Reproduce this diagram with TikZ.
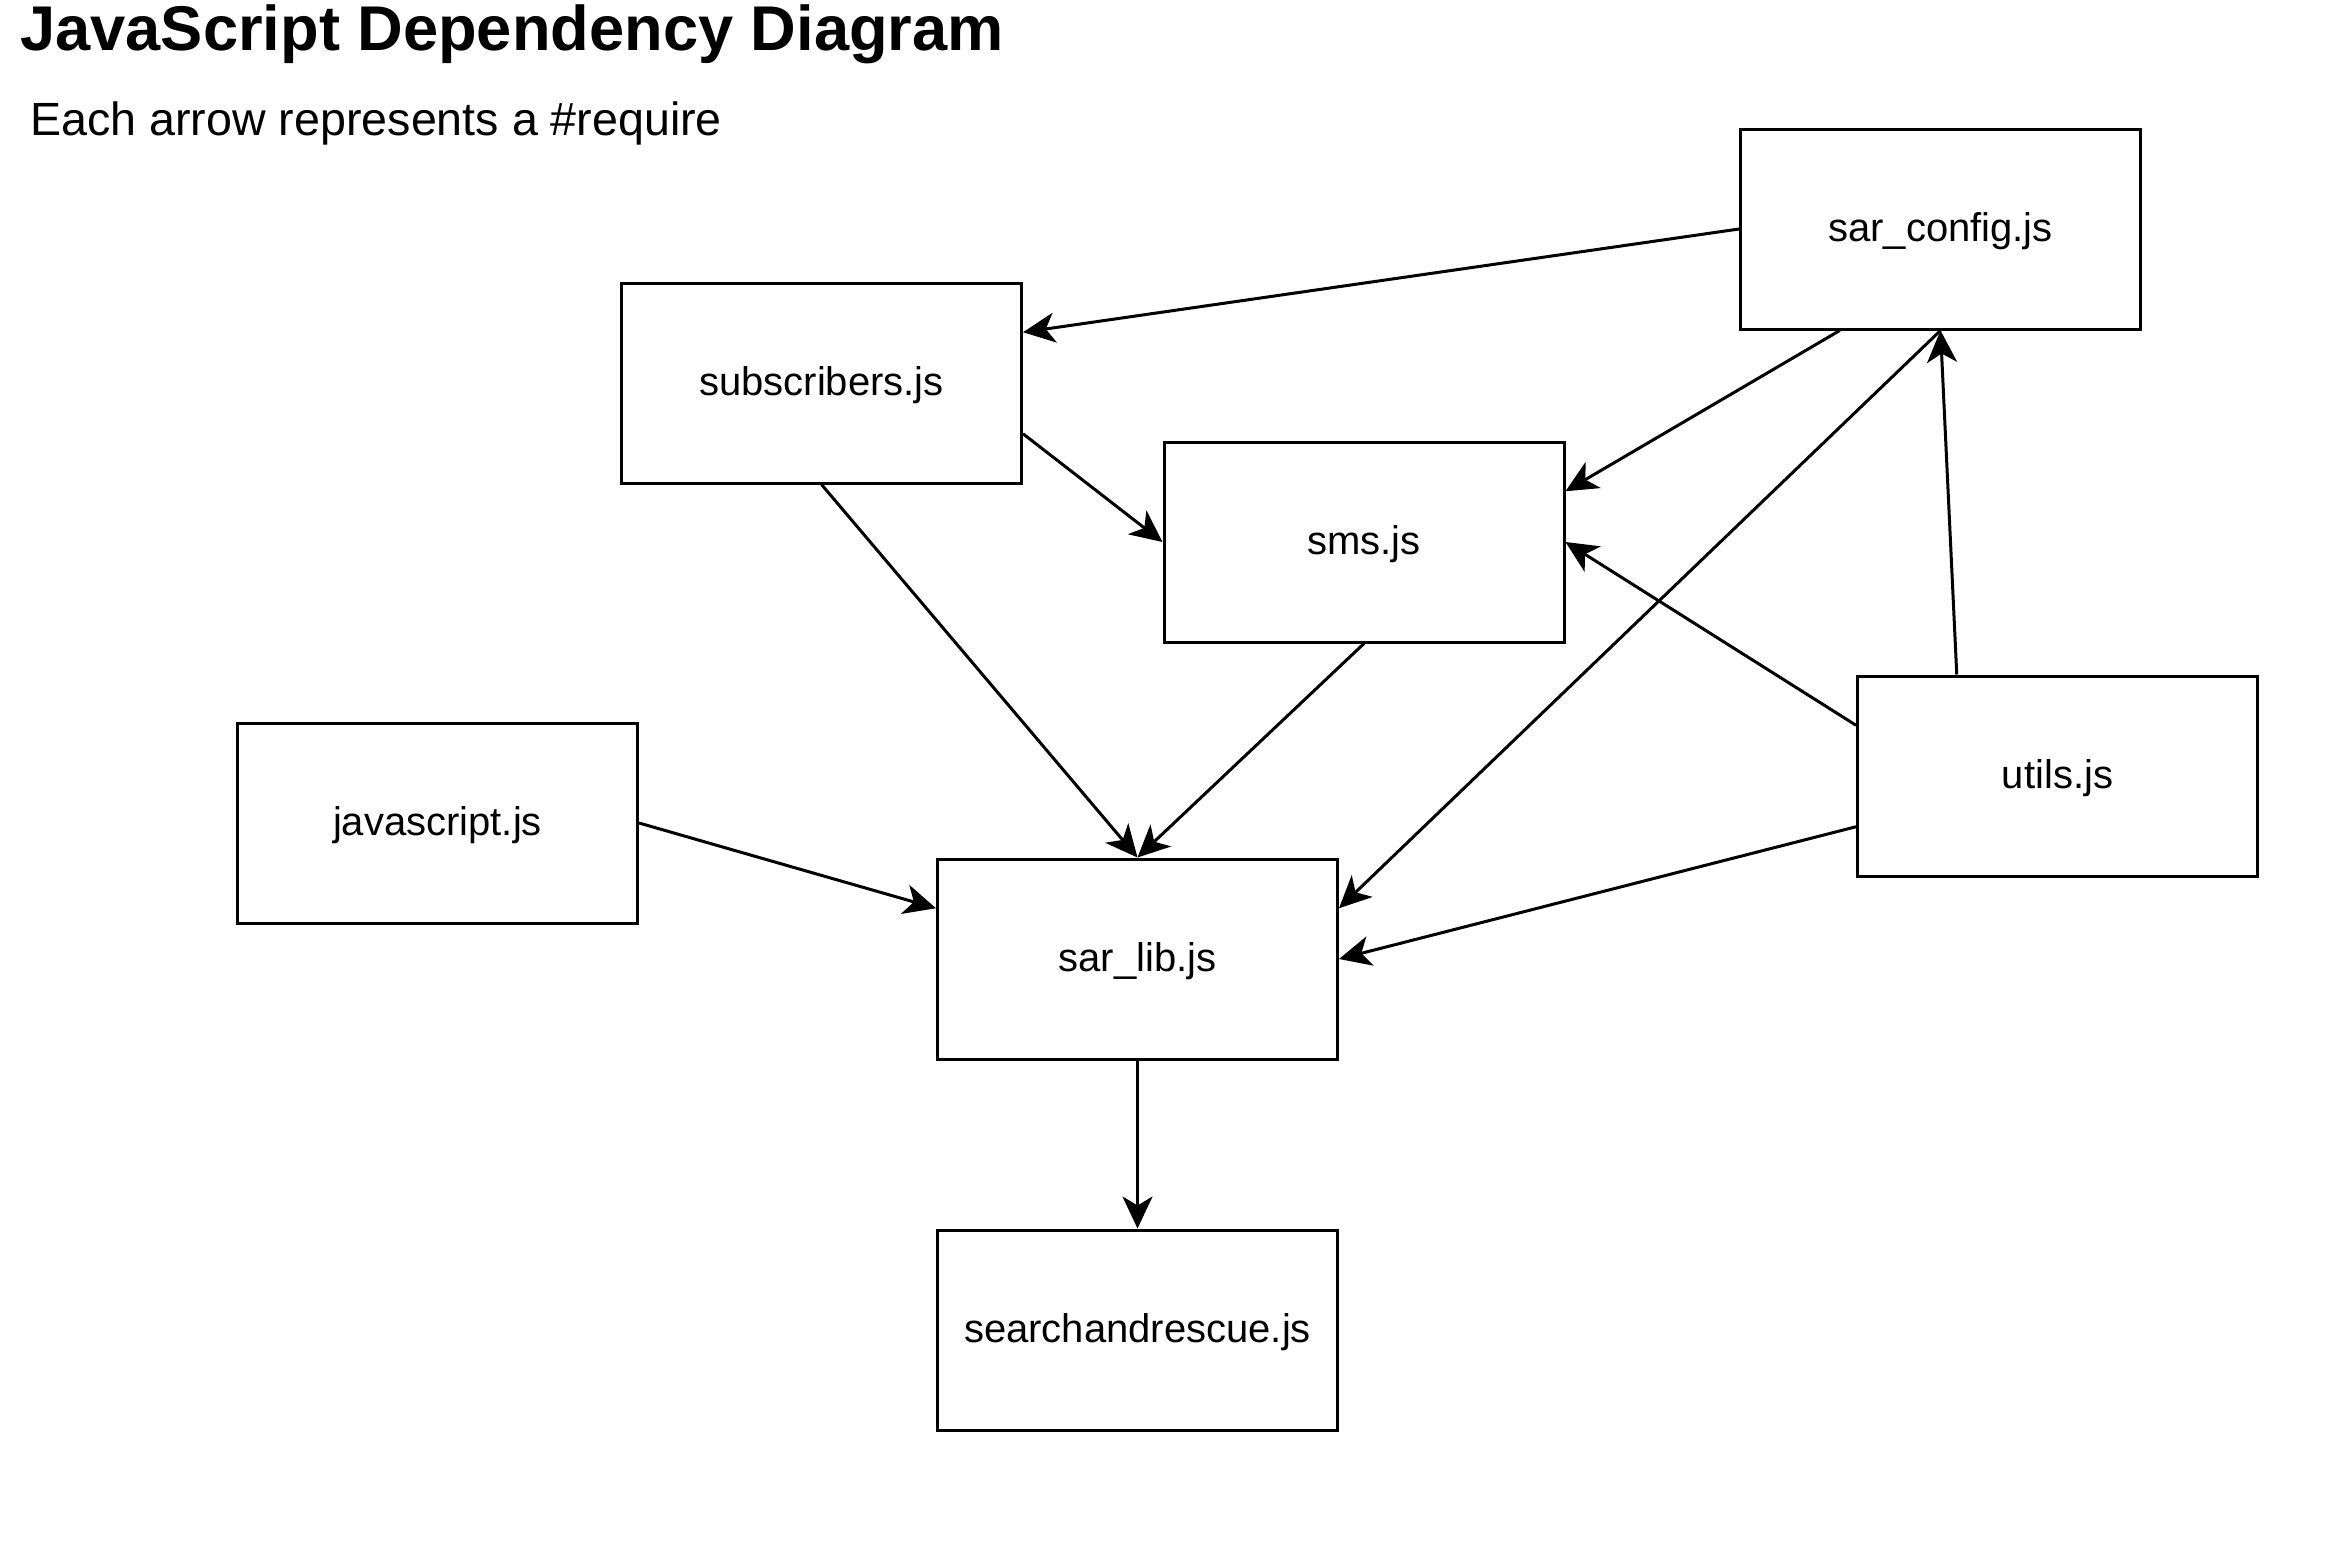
\documentclass[tikz,border=0pt]{standalone}
\usepackage{fontspec}
\setmainfont{Liberation Sans}
\usetikzlibrary{arrows.meta,calc}
\tikzset{
  filebox/.style={draw=black, line width=1.5pt, fill=white, minimum width=200pt, minimum height=100pt, inner sep=0pt, text height=12.5pt, text depth=0pt, font=\fontsize{20pt}{24pt}\selectfont},
  dep/.style={draw=black, line width=1.5pt, -{Stealth[length=16pt,width=15pt,inset=4.5pt]}},
}
\begin{document}
\begin{tikzpicture}[x=0.5pt,y=-0.5pt]
\useasboundingbox (0,0) rectangle (2350,1563);
\fill[white] (0,0) rectangle (2350,1563);
\node[anchor=base west, inner sep=0pt, font=\fontsize{31.6pt}{36pt}\selectfont\bfseries] (title) at (20,50) {JavaScript Dependency Diagram};
\node[anchor=base west, inner sep=0pt, font=\fontsize{23.3pt}{28pt}\selectfont] (subtitle) at (30,135) {Each arrow represents a \#require};

\node[filebox] (config) at (1940.5,229) {sar\_config.js};
\node[filebox] (subs) at (821.5,383) {subscribers.js};
\node[filebox] (sms) at (1364,542) {sms.js};
\node[filebox] (js) at (437.5,823) {javascript.js};
\node[filebox] (lib) at (1137.5,959) {sar\_lib.js};
\node[filebox] (utils) at (2057.5,776) {utils.js};
\node[filebox] (sar) at (1137.5,1330) {searchandrescue.js};

\draw[dep] (config.west) -- ($(subs.north east)!0.25!(subs.south east)$);
\draw[dep] ($(config.south west)!0.25!(config.south east)$) -- ($(sms.north east)!0.25!(sms.south east)$);
\draw[dep] (config.south) -- ($(lib.north east)!0.25!(lib.south east)$);
\draw[dep] ($(utils.north west)!0.25!(utils.north east)$) -- (config.south);
\draw[dep] ($(utils.north west)!0.25!(utils.south west)$) -- (sms.east);
\draw[dep] ($(utils.north west)!0.75!(utils.south west)$) -- (lib.east);
\draw[dep] ($(subs.north east)!0.75!(subs.south east)$) -- (sms.west);
\draw[dep] (subs.south) -- (lib.north);
\draw[dep] (sms.south) -- (lib.north);
\draw[dep] (js.east) -- ($(lib.north west)!0.25!(lib.south west)$);
\draw[dep] (lib.south) -- (sar.north);
\end{tikzpicture}
\end{document}
